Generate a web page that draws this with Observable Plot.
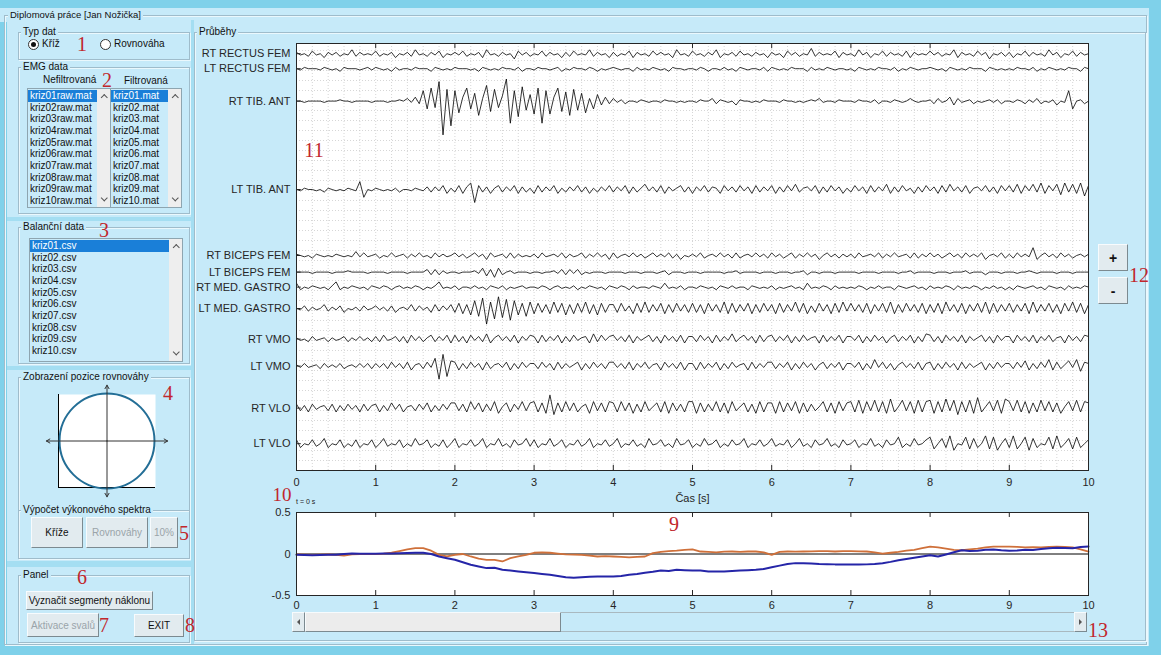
<!DOCTYPE html>
<html><head><meta charset="utf-8">
<script src="https://cdn.jsdelivr.net/npm/d3@7"></script>
<script src="https://cdn.jsdelivr.net/npm/@observablehq/plot@0.6"></script>
<style>
html,body{margin:0;padding:0}
body{width:1161px;height:655px;position:relative;overflow:hidden;background:#7fd1ea;font-family:"Liberation Sans",Arial,sans-serif;font-size:10px;color:#111}
.a{position:absolute}
.bg{background:#c6eaf9}
.gap{background:#a4def2}
.frame{position:absolute;border:1px solid #9fbccb;box-shadow:1px 1px 0 #eaf8fd, inset 1px 1px 0 #eaf8fd;box-sizing:border-box}
.ft{position:absolute;background:#c6eaf9;padding:0 2px;font-size:10px;line-height:12px;white-space:nowrap}
.txt{position:absolute;font-size:10px;line-height:12px;white-space:nowrap}
.lb{position:absolute;background:#c9ebfa;border:1px solid #8ea5b0;box-sizing:border-box;overflow:hidden}
.item{position:absolute;left:0;height:11.7px;line-height:11.7px;padding-left:2px;font-size:10px;white-space:nowrap;box-sizing:border-box}
.sel{background:#1a7fd8;color:#fff}
.sb{position:absolute;top:0;right:0;width:13px;height:100%;background:#eeeeee}
.up,.dn{position:absolute;left:4.5px;width:3.5px;height:3.5px;border-left:1.2px solid #555;border-top:1.2px solid #555}
.up{top:6px;transform:rotate(45deg)}
.dn{bottom:7px;transform:rotate(225deg)}
.btn{position:absolute;box-sizing:border-box;background:#e2ebef;border:1px solid;border-color:#f7fbfd #7c8a90 #7c8a90 #f7fbfd;display:flex;align-items:center;justify-content:center;font-size:10px;white-space:nowrap}
.dis{color:#9aa4a9}
.red{position:absolute;font-family:"Liberation Serif","Times New Roman",serif;font-size:20px;color:#c1272d;line-height:15px;transform:translate(-50%,-50%);white-space:nowrap}
.radio{position:absolute;width:11px;height:11px;border:1px solid #333;border-radius:50%;background:#fff;box-sizing:border-box}
.dot{position:absolute;left:2px;top:2px;width:5px;height:5px;border-radius:50%;background:#111}
</style></head><body>
<script>
// ---------------- DATA ----------------
const channelNames = ["RT RECTUS FEM","LT RECTUS FEM","RT TIB. ANT","LT TIB. ANT","RT BICEPS FEM","LT BICEPS FEM","RT MED. GASTRO","LT MED. GASTRO","RT VMO","LT VMO","RT VLO","LT VLO"];
const channelOffsets = [20.84, 20.09, 18.47, 14.05, 10.75, 9.92, 9.17, 8.1, 6.57, 5.22, 3.12, 1.34];
// EMG samples every 0.05 s; digit = +amplitude, a..z = -1..-26, A..Z = +10..+35
const channelSignals = [
 ["1a0b2a0c1a1b0a3b1a0a","2b0a1c0a1b3a0b1a2c0a","1a2b0a1c3a0b1a0d2a1b","0a2b1a0c1b2a0a3b1a0c","1b0a2c1a0b2a1a0c3a0b","2a0b1a3c0a1b2a0b1a0c","1a0c2a1b0a4b1a0a2c1a","0b3a1c0a2b1a0b2c1a0a","2a1b0a3c1a0b2a1d0a1b","1c0a2b1a0b3a1c0a2b1a","0"].join(""),
 ["0a1000a10a0b1000a01a","10a0b1a00a1000b10a0a","1000a0b10a0a100a1b00","a100a01b0a100a10b0a0","10a00b1a0a10a0b100a0","0a10b00a1a0b10a00a1b","10a0a1000b1a0a10a00a","0b10a0a100a1b0a10a00","10a0b10a0a1000b10a0a","0a100a1b0a10a0a100b1","0"].join(""),
 ["00a0000a000100a0000a","000a00102a3b8fAeFz9s","8i3Af6k2Ch9e4Hq8lBg5","jAq8j3Ah7k9g6i2f5c3b","2a1b00a10a00a100a0a0","0a1002b10a0c100a0a10","00a100a0a0102a00a100","0a100a1b00a10a020a00","1b2a03c2a01b0a01a1b0","0a10b1a2b0a1c0a8f01b","0"].join(""),
 ["0a100a0b10a0a10a6f0a","10a0a1b00a10a2b2a3c1","b3c25j3b2c13b2a3c2b1","c3b2a3c1b2a3b2c1b2a3","b2a3c2b14a2b3c2a13b2","c2a3b21c3a2b3a2c3b2a","3c2b3a4b12a3c2b3a2c1","b3a2c3b2a4c2b3a1c2b3","a2c3b4a2b3c12a3b2c3a","3b4c3a4b5c3a4d5b4c5e","3"].join(""),
 ["10a0b10a0a10a0a3a2a0","1b0a2a01b1a2a0b2a1a0","2a1b02a1c2a01b2b1a0a","1b2a01a2b1a02b1a2a1c","2b01a2a1b02a1a2b1c0a","1a2b01a2a1b2b01a2a1b","2a1b02b1a2a1c02a1b1a","1b2a01a2b1a2a01b2b1a","2a1b02a1b2a1a2c01a2b","1b2a1a6c02a1b2a1b01a","1"].join(""),
 ["0000a0000a00010000a0","000a0000a00002b2b1a0","0a0001a3c2d3b01a000a","00a001a2b2a2b0a000a0","000a000a000a01b000a0","00a00000a001a0000a00","0a000a001b00a000a000","00a0000a0000a001a000","0a000a0001a000b000a0","00a0010a0000a000a000","0"].join(""),
 ["3b0a10a0b14b0a10a0b1","0a10b01a0a10b0a14a0a","1b00a1a0b10a1b0a01a0","0a10b01a0a1b0a10a0b1","0a10b1a00a10a3a0a1b0","0a10a0b10a1a00b10a0a","1b0a01a0b3a0a10b1a0a","0a10b0a1a00b10a01a0b","1a0a10b1a0a10b0a1a0b","0b10a01a0b10a0b1a0a1","0"].join(""),
 ["0a2b1a03b1a2c0a1b2a0","2a1b2c01a3b2a1c3b2a3","c4d3e6f8l5h9g7i6e4f5","d4c3d5c4e3d4c5d3e4c3","3c4b2d4c5c3b4d3c4b3c","4c3d4b3c5d4c3b4d3c4b","3d4c3b5c4d2c4b3d4c5b","4b3c4d3b4c5d3c4b3c4d","3c4d5b3c4d3b4c5d4c3b","4c3b4d5c3b4c3d4b5c4d","3"].join(""),
 ["1a0b2a01b1a02b1a2a1b","2b3a02b2c3a2b13b2a3c","3b2c3a2b4c13a2b3c2a3","2c3b2a3c2b3a12c4b3a2","3a2b3c2a13b2c3a2b3c2","2b3a2c3b2a4b13a2c3b2","3b2a3c2b3a12c3b2a3c2","2a3c2b3a2c13b2a3c2b4","3b2c3a2b3c2a13b2c3a2","2c3a2b3c2a3b12c3a2b3","2"].join(""),
 ["1a2a01b2a1a2b01a2a2b","2a2b3a2b3c12b3a6j9h4","3c2b3a2c3b12a3c2b3a2","2b3a2c3b2a13c2b3a2b3","3a2b3c2a3b12c3a2b3c2","2c3b2a3c2b3a12c3b2a3","3b2a3c2b3a2c13b2a3c2","2a3c2b5a3b2c13a2b3c2","3c2b3a2c3b2a13c2b3a2","2b3a4c2b3a5c3b14a5d3","2"].join(""),
 ["3b2c3a12b3c2b3a2c3b2","3c2b4a3c12b3a4c2b3a4","4b3c5a4c3b5d14c3a5b4","5c4dAe4c5b4c13d5b4c5","4c5b4d3c5b14c5d4b3c5","5d4c3b5c4d5b14c3d5c4","4d5c4b5d4c3b15c4d5b4","5c6d5b6c5d7c16b5d6c5","6d5c7b6e5c6d8c15b6d7","5b6c5d4c6b5c4d15b6c5","4"].join(""),
 ["3c0a3b04c0a3c0b3c0a3","c04b0a3c0b4a03c0b3c0","4c0a3b04c0a4b0c3a04b","3c0a4b03c0a3b04c0a3b","04c0a3b0c4a03b0c4a03","c0b4a03c0b3a04c0a3b0","4b0a3c04b0c3a04b0c3a","03c0a4b0c3a05c0b4a03","5d04c6e0a5d4c06d5e04","c6d05e4c0a5d6c04d5c0","3"].join("")
];
const emgUnit = 0.065;            // signal units per amplitude step
const xTicks = [0,1,2,3,4,5,6,7,8,9,10];
const xLabel = "Čas [s]";

// balance curves, every 0.1 s from 0 to 10 s
const blueValues = [-0.01,-0.012,-0.015,-0.012,-0.01,-0.008,0,0.005,0.002,0.004,0.003,0.005,0.006,0.008,0.012,0.015,0.015,0,-0.03,-0.05,-0.07,-0.1,-0.13,-0.15,-0.17,-0.165,-0.19,-0.2,-0.21,-0.22,-0.23,-0.24,-0.25,-0.265,-0.28,-0.285,-0.28,-0.275,-0.27,-0.272,-0.27,-0.265,-0.25,-0.24,-0.225,-0.215,-0.2,-0.205,-0.19,-0.195,-0.2,-0.2,-0.21,-0.212,-0.21,-0.205,-0.2,-0.195,-0.19,-0.18,-0.16,-0.14,-0.12,-0.11,-0.112,-0.115,-0.12,-0.122,-0.125,-0.125,-0.128,-0.128,-0.125,-0.12,-0.112,-0.095,-0.075,-0.06,-0.045,-0.03,-0.015,-0.03,-0.005,0.02,0.045,0.035,0.04,0.05,0.055,0.045,0.038,0.042,0.05,0.048,0.06,0.07,0.075,0.072,0.07,0.085,0.09];
const orangeValues = [-0.005,-0.008,-0.01,-0.008,-0.006,-0.01,-0.02,-0.005,0,0.002,0,0.004,0.015,0.035,0.055,0.07,0.07,0.04,-0.01,-0.03,-0.01,0,-0.03,-0.055,-0.07,-0.07,-0.09,-0.05,-0.03,-0.01,0.015,0.02,0.015,0.005,-0.005,-0.008,-0.01,-0.02,-0.03,-0.025,-0.03,-0.035,-0.04,-0.035,-0.03,0.01,0.025,0.035,0.04,0.05,0.055,0.03,0.025,0.02,0.028,0.03,0.025,0.03,0.03,0.02,-0.01,0.025,0.03,0.028,0.03,0.032,0.035,0.035,0.03,0.035,0.035,0.032,0.03,0.02,0.005,0.015,0.025,0.04,0.05,0.07,0.09,0.08,0.065,0.05,0.045,0.055,0.065,0.08,0.09,0.09,0.088,0.085,0.08,0.082,0.08,0.085,0.09,0.085,0.08,0.055,0.03];
const balTicks = [-0.5, 0, 0.5];
const balTickLabels = ["-0.5", "0", "0.5"];

// balance-position view (unit circle, axis arrows)
const balanceCircle = [{x: 0, y: 0}];
const balanceArrows = [{x: 1.25, y: 0}, {x: -1.25, y: 0}, {x: 0, y: 1.2}, {x: 0, y: -1.2}];

// GUI texts
const rawFiles = ["kriz01raw.mat","kriz02raw.mat","kriz03raw.mat","kriz04raw.mat","kriz05raw.mat","kriz06raw.mat","kriz07raw.mat","kriz08raw.mat","kriz09raw.mat","kriz10raw.mat"];
const filtFiles = ["kriz01.mat","kriz02.mat","kriz03.mat","kriz04.mat","kriz05.mat","kriz06.mat","kriz07.mat","kriz08.mat","kriz09.mat","kriz10.mat"];
const csvFiles = ["kriz01.csv","kriz02.csv","kriz03.csv","kriz04.csv","kriz05.csv","kriz06.csv","kriz07.csv","kriz08.csv","kriz09.csv","kriz10.csv"];

// ---------------- GUI ----------------
const B = document.body;
function el(cls, st, html) {
  const d = document.createElement("div");
  d.className = cls;
  Object.assign(d.style, st);
  if (html != null) d.innerHTML = html;
  B.appendChild(d);
  return d;
}
const px = v => v + "px";
function box(cls, l, t, w, h, html) { return el(cls, {left: px(l), top: px(t), width: px(w), height: px(h)}, html); }

// backgrounds
box("a bg", 0, 8, 1149, 14);
box("a bg", 7, 20, 185, 626);
box("a bg", 194, 20, 955, 626);
box("a gap", 191, 20, 3, 626);
box("a gap", 7, 217, 185, 4);
box("a gap", 7, 366, 185, 4);
box("a gap", 7, 561, 185, 6);

// main title + frame
box("frame", 4, 15, 1143, 630);
el("ft", {left: "8px", top: "9px", fontSize: "9.5px"}, "Diplomová práce [Jan Nožička]");

// frames
function frame(l, t, w, h, title) {
  box("frame", l, t, w, h);
  if (title) el("ft", {left: px(l + 3), top: px(t - 6)}, title);
}
frame(18, 32, 172, 28, "Typ dat");
frame(18, 67, 172, 147, "EMG data");
frame(18, 227, 172, 137, "Balanční data");
frame(18, 377, 172, 182, "Zobrazení pozice rovnováhy");
frame(18, 510, 172, 49, "Výpočet výkonového spektra");
frame(18, 575, 172, 68, "Panel");
frame(194, 32, 952, 609, "Průběhy");

// radios
const r1 = box("radio", 28, 39, 11, 11); r1.appendChild(Object.assign(document.createElement("div"), {className: "dot"}));
el("txt", {left: "42px", top: "38px"}, "Kříž");
box("radio", 100, 39, 11, 11);
el("txt", {left: "114px", top: "38px"}, "Rovnováha");

el("txt", {left: "43px", top: "74px"}, "Nefiltrovaná");
el("txt", {left: "124px", top: "75px"}, "Filtrovaná");

function listbox(l, t, w, h, items) {
  const lb = box("lb", l, t, w, h);
  items.forEach((s, i) => {
    const it = document.createElement("div");
    it.className = "item" + (i === 0 ? " sel" : "");
    it.style.top = px(1 + i * 11.67);
    it.style.width = px(w - 15);
    it.textContent = s;
    lb.appendChild(it);
  });
  const sb = document.createElement("div"); sb.className = "sb";
  sb.innerHTML = '<div class="up"></div><div class="dn"></div>';
  lb.appendChild(sb);
}
listbox(27, 88, 84, 120, rawFiles);
listbox(110, 88, 72, 120, filtFiles);
listbox(29, 238, 154, 124, csvFiles);

// buttons
box("btn", 31, 517, 52, 31, "Kříže");
box("btn dis", 86, 517, 62, 31, "Rovnováhy");
box("btn dis", 150, 517, 28, 31, "10%");
box("btn", 26, 591, 127, 19, "Vyznačit segmenty náklonu");
box("btn dis", 27, 613, 72, 24, "Aktivace svalů");
box("btn", 134, 614, 50, 23, "EXIT");
const bp = box("btn", 1098, 244, 30, 27, "+"); bp.style.fontSize = "14px"; bp.style.fontWeight = "bold";
const bm = box("btn", 1098, 277, 30, 27, "-"); bm.style.fontSize = "14px"; bm.style.fontWeight = "bold";

// scrollbar
box("a", 292, 612, 795, 20).style.cssText += "border:1px solid #a9b9c0;box-sizing:border-box;background:#c6eaf9";
box("btn", 292, 612, 13, 20, '<div style="width:0;height:0;border-top:3px solid transparent;border-bottom:3px solid transparent;border-right:3px solid #555"></div>');
box("btn", 305, 612, 256, 20).style.background = "#ececec";
box("btn", 1074, 612, 13, 20, '<div style="width:0;height:0;border-top:3px solid transparent;border-bottom:3px solid transparent;border-left:3px solid #555"></div>');

el("txt", {left: "296px", top: "497px", fontSize: "7px", lineHeight: "9px", color: "#222"}, "t = 0 s");

// ---------------- CHARTS ----------------
const font = {background: "transparent", fontFamily: "'Liberation Sans', Arial, sans-serif", fontSize: "11px", color: "#262626", overflow: "visible"};
function decode(c) {
  const k = c.charCodeAt(0);
  if (k >= 48 && k <= 57) return k - 48;
  if (k >= 97 && k <= 122) return -(k - 96);
  if (k >= 65 && k <= 90) return k - 55;
  return 0;
}
const emgRows = channelSignals.flatMap((s, ci) => {
  const n = s.length;
  return Array.from(s, (c, i) => ({t: i * 10 / (n - 1), v: channelOffsets[ci] + decode(c) * emgUnit, ch: channelNames[ci]}));
});
const nameOf = new Map(channelOffsets.map((o, i) => [o, channelNames[i]]));
const gridX = d3.range(0, 50).map(i => i / 5);
const gridY = d3.range(1, 43).map(i => i / 2);

const emgChart = Plot.plot({
  width: 912, height: 472, marginLeft: 110, marginRight: 10, marginTop: 5, marginBottom: 40,
  style: font,
  x: {domain: [0, 10], ticks: xTicks, tickSize: 0, tickPadding: 8, label: null, tickFormat: d => String(d)},
  y: {domain: [0, 21.35], ticks: channelOffsets, tickSize: 0, tickPadding: 6, tickFormat: d => nameOf.get(d), label: null},
  marks: [
    Plot.frame({fill: "white"}),
    Plot.ruleX(gridX, {stroke: "#c4c4c4", strokeWidth: 0.7, strokeDasharray: "1,2"}),
    Plot.ruleY(gridY, {stroke: "#c4c4c4", strokeWidth: 0.7, strokeDasharray: "1,2"}),
    Plot.line(emgRows, {x: "t", y: "v", z: "ch", stroke: "#000", strokeWidth: 0.8, clip: true}),
    Plot.ruleX(xTicks, {y1: 0, y2: 0.26, stroke: "#262626"}),
    Plot.ruleX(xTicks, {y1: 21.09, y2: 21.35, stroke: "#262626"}),
    Plot.ruleY(channelOffsets, {x1: 0, x2: 0.06, stroke: "#262626"}),
    Plot.text([xLabel], {frameAnchor: "bottom", dy: 31, text: d => d, fontSize: 11, fill: "#262626"}),
    Plot.frame({stroke: "#262626"})
  ]
});
emgChart.style.position = "absolute"; emgChart.style.left = "186px"; emgChart.style.top = "38px";
B.appendChild(emgChart);

const tSteps = blueValues.map((_, i) => i / 10);
const balRows = tSteps.map((t, i) => ({t, blue: blueValues[i], orange: orangeValues[i]}));
const balChart = Plot.plot({
  width: 912, height: 123, marginLeft: 110, marginRight: 10, marginTop: 20, marginBottom: 20,
  style: font,
  x: {domain: [0, 10], ticks: xTicks, tickSize: 0, tickPadding: 6, label: null, tickFormat: d => String(d)},
  y: {domain: [-0.5, 0.5], ticks: balTicks, tickSize: 0, tickPadding: 6, label: null, tickFormat: d => balTickLabels[balTicks.indexOf(d)]},
  marks: [
    Plot.frame({fill: "white"}),
    Plot.ruleY([0], {stroke: "#000", strokeWidth: 1}),
    Plot.line(balRows, {x: "t", y: "orange", stroke: "#cf703a", strokeWidth: 1.8}),
    Plot.line(balRows, {x: "t", y: "blue", stroke: "#2525a8", strokeWidth: 2}),
    Plot.ruleX(xTicks, {y1: -0.5, y2: -0.44, stroke: "#262626"}),
    Plot.ruleX(xTicks, {y1: 0.44, y2: 0.5, stroke: "#262626"}),
    Plot.frame({stroke: "#262626"})
  ]
});
balChart.style.position = "absolute"; balChart.style.left = "186px"; balChart.style.top = "492px";
B.appendChild(balChart);

const posChart = Plot.plot({
  width: 140, height: 122, marginLeft: 21, marginRight: 22, marginTop: 14, marginBottom: 15,
  style: font,
  x: {domain: [-1, 1], axis: null},
  y: {domain: [-1, 1], axis: null},
  marks: [
    Plot.frame({fill: "white"}),
    Plot.ruleX([-1], {stroke: "#000"}),
    Plot.ruleY([-1], {stroke: "#000"}),
    Plot.dot(balanceCircle, {x: "x", y: "y", r: 47.5, fill: "none", stroke: "#236e96", strokeWidth: 2}),
    Plot.arrow(balanceArrows, {x1: 0, y1: 0, x2: "x", y2: "y", stroke: "#333", strokeWidth: 1, headLength: 6})
  ]
});
posChart.style.position = "absolute"; posChart.style.left = "37px"; posChart.style.top = "380px";
B.appendChild(posChart);

// red annotation numbers
[["1",82,44],["2",107,80],["3",104,230],["4",168,393],["5",184,533],["6",82,577],["7",104,625],["8",190,625],["9",674,524],["10",282,494],["11",314,150],["12",1139,275],["13",1098,630]]
  .forEach(([s, x, y]) => {
    const r = el("red", {left: px(x), top: px(y)}, s);
    if (s === "10") r.style.fontSize = "19px";
  });
</script>
</body></html>
